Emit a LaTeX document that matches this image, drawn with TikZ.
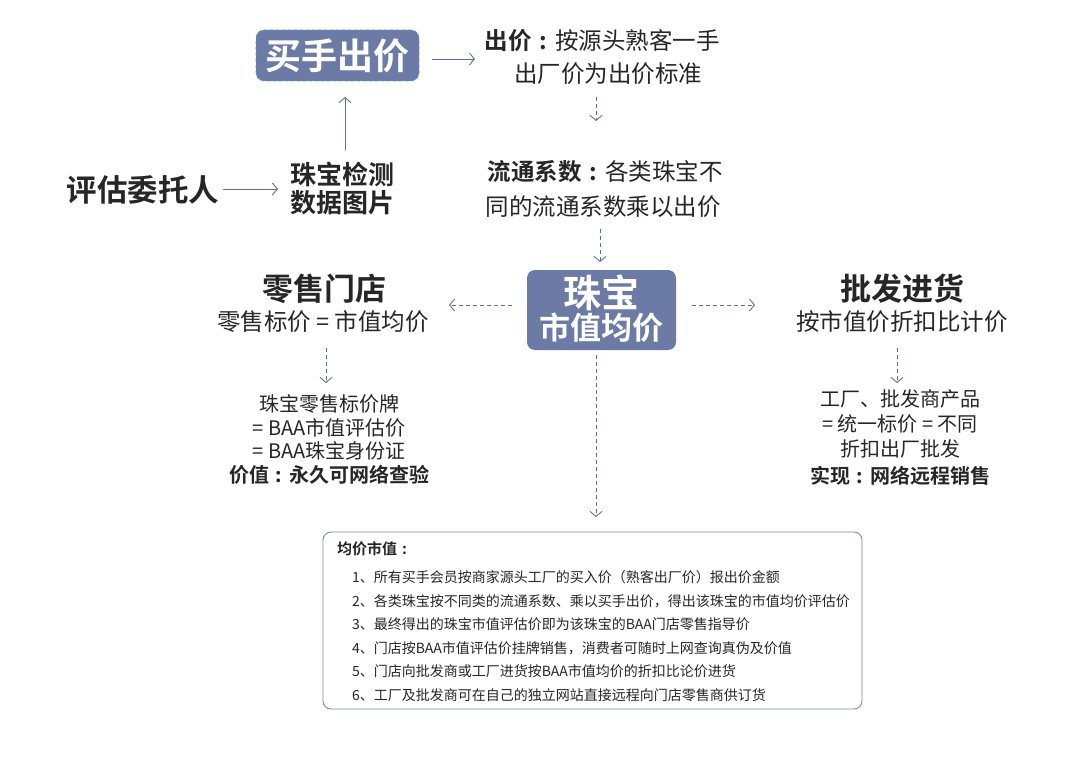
\documentclass[tikz,border=0pt]{standalone}
\usepackage{fontspec}
\setmainfont{Noto Sans CJK SC}[BoldFont={Noto Sans CJK SC Bold}]
\usetikzlibrary{arrows.meta}
\definecolor{boxblue}{RGB}{107,123,165}
\definecolor{arrblue}{RGB}{96,110,160}
\definecolor{txt}{RGB}{38,38,38}
\definecolor{frame}{RGB}{125,135,175}
\newcommand{\fs}[1]{\fontsize{#1}{#1}\selectfont}
\newcommand{\cc}{\makebox[1em][c]{:}}
\begin{document}
\begin{tikzpicture}[x=1pt,y=-1pt,
  every node/.style={inner sep=0pt,outer sep=0pt,text=txt},
  arr/.style={draw=arrblue,line width=0.9pt,-{Straight Barb[length=5,width=12,line width=0.9pt]}},
  darr/.style={arr,dash pattern=on 4pt off 3pt},
  bluebox/.style={fill=boxblue,rounded corners=8pt},
  big/.style={font=\fs{31}\bfseries},
  mid/.style={font=\fs{23.5}},
  sml/.style={font=\fs{20}},
  lst/.style={font=\fs{14},anchor=west}]
\useasboundingbox (0,0) rectangle (1084,757);
% buyer box
\node[bluebox,draw={rgb,255:red,91;green,155;blue,213},line width=0.6pt,dashed,minimum width=163,minimum height=51] (buyer) at (337.5,55.5) {};
\node[text=white,font=\fs{36}\bfseries] (buyert) at (337.5,56) {买手出价};
\node[mid] (c1) at (602,41) {\textbf{出价\cc}按源头熟客一手};
\node[mid] (c2) at (608,74) {出厂价为出价标准};
\node[mid] (l1) at (605,172) {\textbf{流通系数\cc}各类珠宝不};
\node[mid] (l2) at (603,207) {同的流通系数乘以出价};
% center box
\node[bluebox,minimum width=149,minimum height=80] (center) at (601.5,310) {};
\node[text=white,font=\fs{38}\bfseries] (ct1) at (601,293) {珠宝};
\node[text=white,font=\fs{31}\bfseries] (ct2) at (601,328) {市值均价};
% left
\node[big] (r1) at (324,289) {零售门店};
\node[mid] (r2) at (323,322) {零售标价 = 市值均价};
\node[sml] (ra) at (329,404) {珠宝零售标价牌};
\node[sml] (rb) at (329,428) {= BAA市值评估价};
\node[sml] (rc) at (329,451) {= BAA珠宝身份证};
\node[sml,font=\fs{20}\bfseries] (rd) at (329,475) {价值\cc 永久可网络查验};
% right
\node[big] (w1) at (902,289) {批发进货};
\node[mid] (w2) at (902,322) {按市值价折扣比计价};
\node[sml] (wa) at (900,399) {工厂、批发商产品};
\node[sml] (wb) at (900,424) {= 统一标价 = 不同};
\node[sml] (wc) at (900,449) {折扣出厂批发};
\node[sml,font=\fs{20}\bfseries] (wd) at (900,476) {实现\cc 网络远程销售};
% client
\node[big,font=\fs{30.5}\bfseries] (client) at (143,190) {评估委托人};
\node[font=\fs{26}\bfseries,anchor=west] (d1) at (290,174) {珠宝检测};
\node[font=\fs{26}\bfseries,anchor=west] (d2) at (290,203) {数据图片};
% bottom box
\node[draw=frame,line width=0.9pt,rounded corners=8pt,minimum width=539,minimum height=177] (note) at (592.5,620.5) {};
\node[font=\fs{15}\bfseries,anchor=west] (nt) at (337,549) {均价市值\cc};
\node[lst] (n1) at (352,577) {1、所有买手会员按商家源头工厂的买入价（熟客出厂价）报出价金额};
\node[lst] (n2) at (352,601) {2、各类珠宝按不同类的流通系数、乘以买手出价，得出该珠宝的市值均价评估价};
\node[lst] (n3) at (352,624) {3、最终得出的珠宝市值评估价即为该珠宝的BAA门店零售指导价};
\node[lst] (n4) at (352,648) {4、门店按BAA市值评估价挂牌销售，消费者可随时上网查询真伪及价值};
\node[lst] (n5) at (352,671) {5、门店向批发商或工厂进货按BAA市值均价的折扣比论价进货};
\node[lst] (n6) at (352,695) {6、工厂及批发商可在自己的独立网站直接远程向门店零售商供订货};
% connector end points
\coordinate (a1s) at (432,59);  \coordinate (a1e) at (475,59);
\coordinate (a2s) at (596,97);  \coordinate (a2e) at (596,121);
\coordinate (a3s) at (600,229); \coordinate (a3e) at (600,262);
\coordinate (a4s) at (512,305); \coordinate (a4e) at (449,305);
\coordinate (a5s) at (692,305); \coordinate (a5e) at (755,305);
\coordinate (a6s) at (326,348); \coordinate (a6e) at (326,383);
\coordinate (a7s) at (897,348); \coordinate (a7e) at (897,383);
\coordinate (a8s) at (596,355); \coordinate (a8e) at (596,517);
\coordinate (a9s) at (223,189); \coordinate (a9e) at (278,189);
\coordinate (a10s) at (345,150); \coordinate (a10e) at (345,97);
\draw[arr] (a1s) -- (a1e);
\draw[darr] (a2s) -- (a2e);
\draw[darr] (a3s) -- (a3e);
\draw[darr] (a4s) -- (a4e);
\draw[darr] (a5s) -- (a5e);
\draw[darr] (a6s) -- (a6e);
\draw[darr] (a7s) -- (a7e);
\draw[darr] (a8s) -- (a8e);
\draw[arr] (a9s) -- (a9e);
\draw[arr] (a10s) -- (a10e);
\end{tikzpicture}
\end{document}
